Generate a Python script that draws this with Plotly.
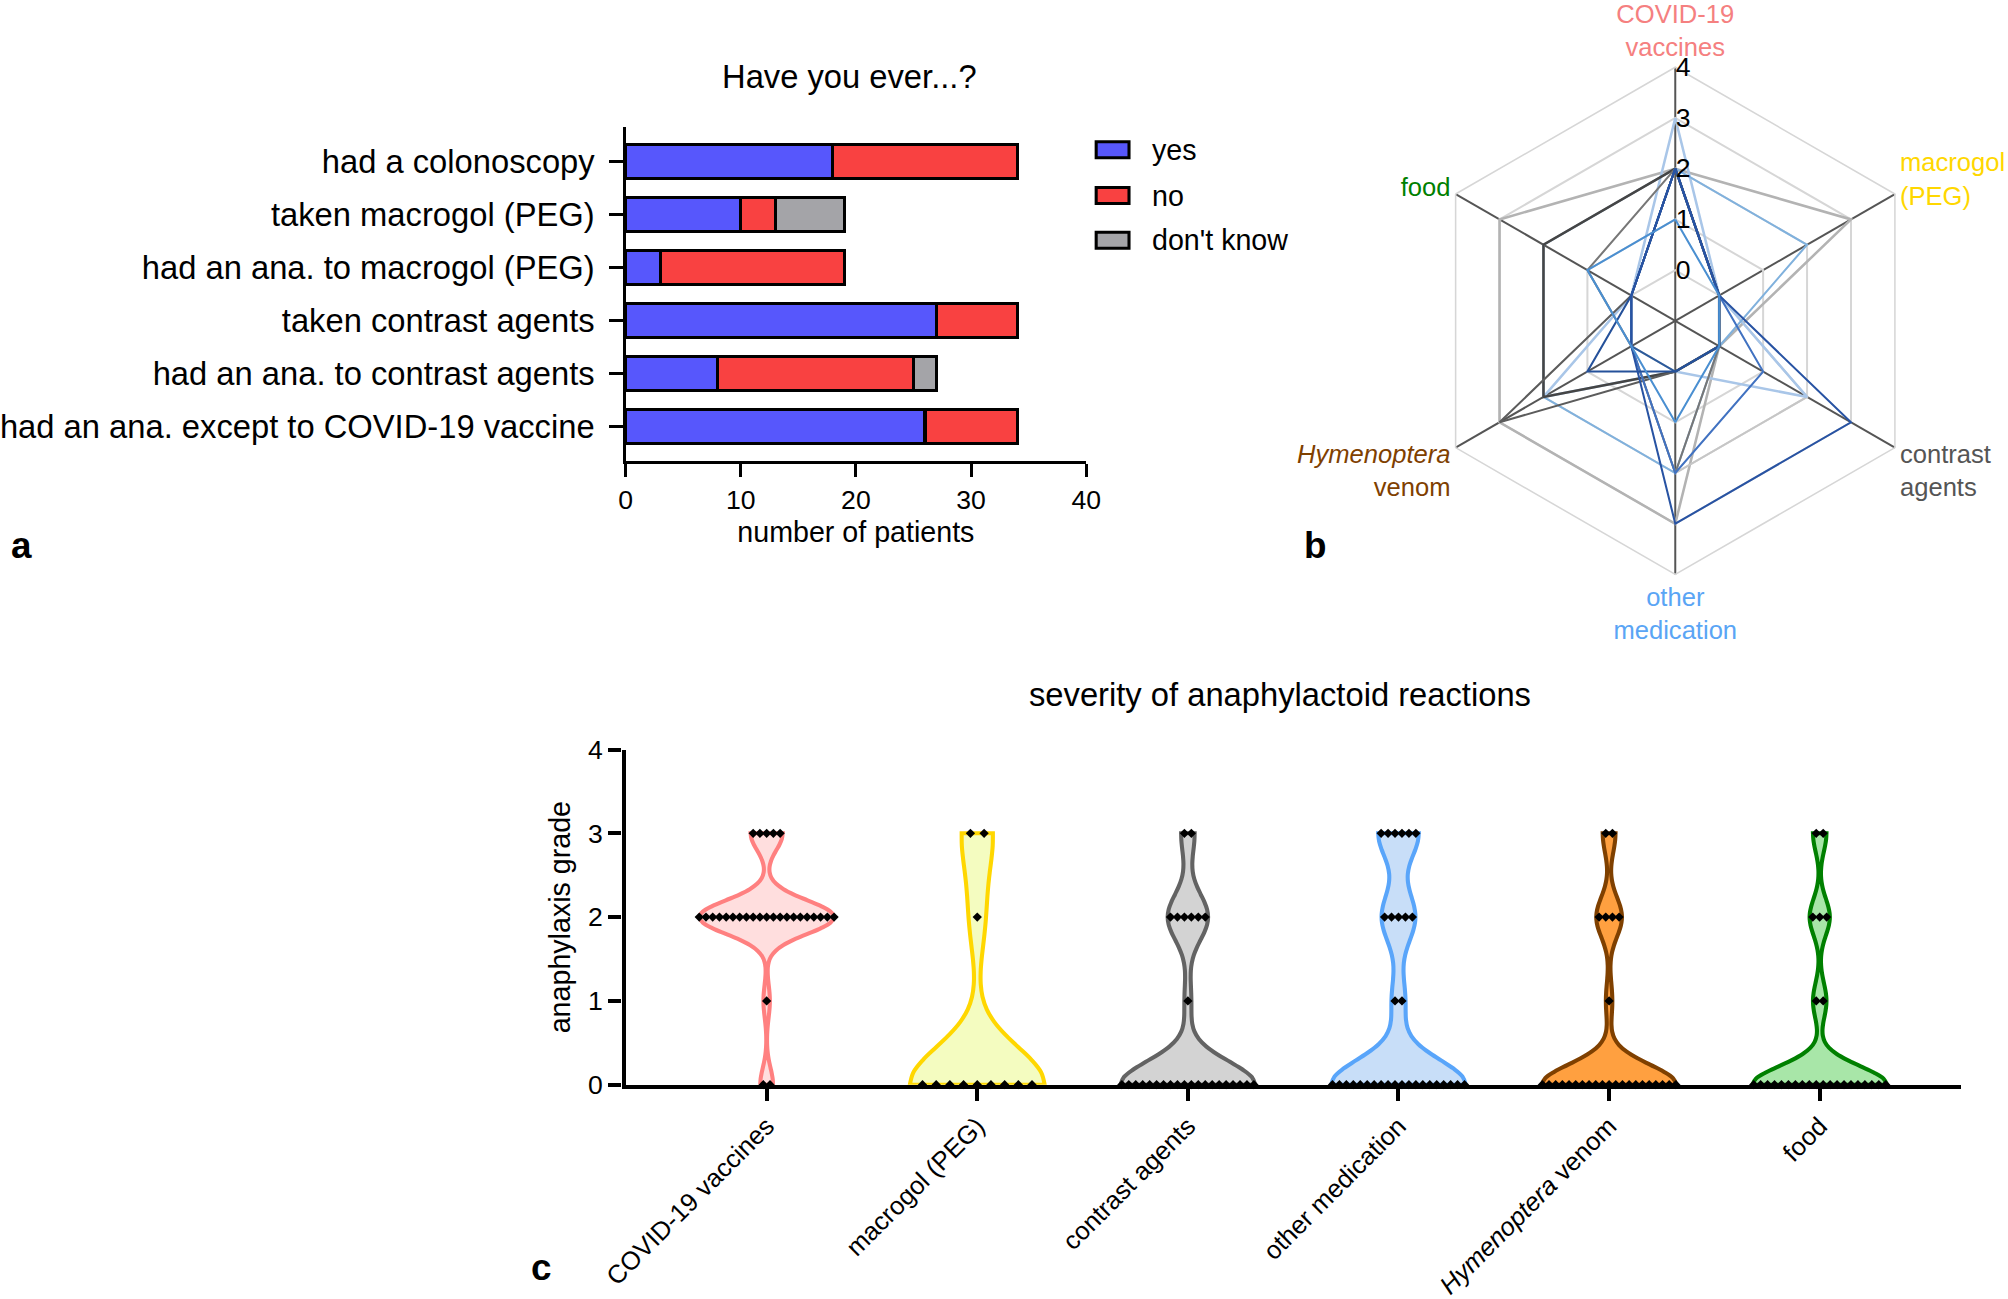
import numpy as np
import plotly.graph_objects as go

FONT = "Liberation Sans, Arial, Helvetica, sans-serif"

# ---------------- Panel a: stacked bars ----------------
bar_categories = [
    "had a colonoscopy",
    "taken macrogol (PEG)",
    "had an ana. to macrogol (PEG)",
    "taken contrast agents",
    "had an ana. to contrast agents",
    "had an ana. except to COVID-19 vaccine",
]
yes_counts = [18, 10, 3, 27, 8, 26]
no_counts = [16, 3, 16, 7, 17, 8]
dont_know_counts = [0, 6, 0, 0, 2, 0]
answer_names = ["yes", "no", "don't know"]
answer_colors = ["#5757FC", "#F94141", "#A4A4A8"]

# ---------------- Panel b: radar ----------------
radar_axes = ["COVID-19 vaccines", "macrogol (PEG)", "contrast agents",
              "other medication", "Hymenoptera venom", "food"]
radar_label_colors = ["#F58080", "#FFD700", "#555555", "#5AA5F5", "#7F4000", "#008000"]
radar_label_text = [
    ["COVID-19", "vaccines"],
    ["macrogol", "(PEG)"],
    ["contrast", "agents"],
    ["other", "medication"],
    ["<i>Hymenoptera</i>", "venom"],
    ["food"],
]
radar_profiles = [
    [2, 3, 0, 3, 3, 3],
    [2, 0, 2, 2, 0, 0],
    [3, 0, 2, 0, 2, 0],
    [2, 2, 0, 2, 2, 2],
    [2, 0, 0, 0, 2, 2],
    [2, 0, 0, 0, 3, 0],
    [2, 0, 0, 2, 0, 1],
    [2, 0, 1, 2, 0, 0],
    [2, 0, 0, 0, 0, 0],
    [2, 0, 0, 0, 1, 0],
    [2, 0, 3, 3, 0, 0],
    [1, 0, 0, 1, 0, 1],
]
radar_colors = ["#B3B3B3", "#C6C6C6", "#A9C6E8", "#80B1DD", "#454545", "#5C5C5C",
                "#777777", "#4172C1", "#2B5A9B", "#25519A", "#2853A3", "#4A8FD1"]
radar_widths = [2.5, 2, 2.5, 2, 2.5, 2, 2, 2, 2, 2, 2, 2]
radar_ticks = [0, 1, 2, 3, 4]

# ---------------- Panel c: violins ----------------
violin_categories = ["COVID-19 vaccines", "macrogol (PEG)", "contrast agents",
                     "other medication", "<i>Hymenoptera</i> venom", "food"]
grades = [0, 1, 2, 3]
counts_covid = [2, 1, 21, 5]
counts_macrogol = [9, 0, 1, 2]
counts_contrast = [20, 1, 6, 2]
counts_other = [20, 2, 5, 6]
counts_hymenoptera = [21, 1, 4, 2]
counts_food = [20, 2, 3, 2]
grade_counts = [counts_covid, counts_macrogol, counts_contrast,
                counts_other, counts_hymenoptera, counts_food]
violin_line_colors = ["#FF8080", "#FFD700", "#636363", "#59A5FA", "#7F4000", "#008000"]
violin_fill_colors = ["#FFDEDE", "#F4FCC0", "#D3D3D3", "#C8DEF8", "#FFA040", "#A8E6A8"]
violin_bandwidths = [0.2, 0.45, 0.28, 0.3, 0.24, 0.22]
dot_spacing = [0.032, 0.065, 0.033, 0.033, 0.0317, 0.033]

W, H = 2008, 1299
# the page photograph maps figure px -> picture px as p = off + k * f; place
# everything so that it lands where the reference has it
KX, OX = 0.979, 28.5
KY, OY = 0.976, 15.5
K = (KX + KY) / 2
def px(x):
    return ((x - OX) / KX) / W
def py(y):
    return 1 - ((y - OY) / KY) / H
def fs(s):
    return s / K

fig = go.Figure()

for name, vals, col in zip(answer_names, [yes_counts, no_counts, dont_know_counts], answer_colors):
    fig.add_trace(go.Bar(
        y=bar_categories, x=[v if v > 0 else None for v in vals], name=name,
        orientation="h", marker=dict(color=col, line=dict(color="black", width=fs(3))),
        xaxis="x", yaxis="y", showlegend=False,
    ))

for prof, col, w in zip(radar_profiles, radar_colors, radar_widths):
    fig.add_trace(go.Scatterpolar(
        r=prof + [prof[0]], theta=radar_axes + [radar_axes[0]], mode="lines",
        line=dict(color=col, width=fs(w)), subplot="polar", showlegend=False,
    ))

for i, counts in enumerate(grade_counts):
    values = np.repeat(grades, counts)
    fig.add_trace(go.Violin(
        x=[i] * len(values), y=values, width=0.64, scalemode="width",
        spanmode="hard", bandwidth=violin_bandwidths[i], points=False,
        line=dict(color=violin_line_colors[i], width=fs(4)),
        fillcolor=violin_fill_colors[i], box_visible=False, meanline_visible=False,
        xaxis="x2", yaxis="y2", showlegend=False, hoverinfo="skip",
    ))
for i, counts in enumerate(grade_counts):
    xs, ys = [], []
    for g, n in zip(grades, counts):
        offs = (np.arange(n) - (n - 1) / 2.0) * dot_spacing[i]
        xs.extend(list(i + offs))
        ys.extend([g] * n)
    fig.add_trace(go.Scatter(
        x=xs, y=ys, mode="markers", cliponaxis=False,
        marker=dict(symbol="diamond", size=fs(7), color="black"),
        xaxis="x2", yaxis="y2", showlegend=False,
    ))

axis_common = dict(showline=True, linecolor="black", ticks="outside", tickcolor="black",
                   showgrid=False, zeroline=False)

shapes = []
annotations = []
legend_rows_y = [151, 197, 242]
for name, col, yy in zip(answer_names, answer_colors, legend_rows_y):
    shapes.append(dict(type="rect", xref="paper", yref="paper",
                       x0=px(1093), x1=px(1126), y0=py(yy + 8), y1=py(yy - 8),
                       fillcolor=col, line=dict(color="black", width=fs(3))))
    annotations.append(dict(text=name, x=px(1147), y=py(yy), xref="paper", yref="paper",
                            xanchor="left", yanchor="middle", showarrow=False,
                            font=dict(size=fs(28), color="black")))

def label(text, x, y, size, xanchor="center", yanchor="middle"):
    return dict(text=text, x=px(x), y=py(y), xref="paper", yref="paper",
                xanchor=xanchor, yanchor=yanchor, showarrow=False,
                font=dict(size=fs(size), color="black"))

annotations += [
    label("Have you ever...?", 845, 77, 32),
    label("severity of anaphylactoid reactions", 1278, 699, 32),
    label("<b>a</b>", 0, 549, 36, "left"),
    label("<b>b</b>", 1300, 549, 36, "left"),
    label("<b>c</b>", 523, 1297, 36, "left", "bottom"),
]

radar_ticktext = []
for lines, col in zip(radar_label_text, radar_label_colors):
    radar_ticktext.append("<br>".join(f'<span style="color:{col}">{t}</span>' for t in lines))

fig.update_layout(
    width=W, height=H, margin=dict(l=0, r=0, t=0, b=0), autosize=False,
    paper_bgcolor="white", plot_bgcolor="white",
    font=dict(family=FONT, color="black"),
    barmode="stack", bargap=0.36, violinmode="overlay",
    xaxis=dict(domain=[px(620), px(1083)], range=[0, 40], dtick=10, anchor="y",
               linewidth=fs(3), tickwidth=fs(3), ticklen=fs(13), tickfont=dict(size=fs(26)),
               title=dict(text="number of patients", font=dict(size=fs(28)), standoff=fs(8)),
               **axis_common),
    yaxis=dict(domain=[py(464), py(128)], type="category", categoryorder="array",
               categoryarray=bar_categories, range=[5.65, -0.65], anchor="x",
               linewidth=fs(3), tickwidth=fs(3), ticklen=fs(13), tickfont=dict(size=fs(32)),
               ticklabelstandoff=int(round(fs(8))), **axis_common),
    xaxis2=dict(domain=[px(620), px(1962)], range=[-0.67, 5.67], anchor="y2",
                tickmode="array", tickvals=list(range(len(violin_categories))),
                ticktext=violin_categories, tickangle=-45,
                linewidth=fs(4), tickwidth=fs(4), ticklen=fs(12), tickfont=dict(size=fs(25)),
                **axis_common),
    yaxis2=dict(domain=[py(1091), py(754)], range=[0, 4], dtick=1, anchor="x2",
                linewidth=fs(4), tickwidth=fs(4), ticklen=fs(13), tickfont=dict(size=fs(26)),
                title=dict(text="anaphylaxis grade", font=dict(size=fs(28)), standoff=fs(10)),
                **axis_common),
    polar=dict(
        domain=dict(x=[px(1420), px(1930)], y=[py(578), py(68)]),
        gridshape="linear", bgcolor="white",
        radialaxis=dict(range=[-1, 4], tickmode="array", tickvals=radar_ticks,
                        angle=90, tickangle=90, showline=False, ticks="",
                        gridcolor="#D6D6D6", gridwidth=fs(1.5),
                        tickfont=dict(size=fs(26), color="black")),
        angularaxis=dict(rotation=90, direction="clockwise", type="category",
                         categoryarray=radar_axes, tickmode="array",
                         tickvals=radar_axes, ticktext=radar_ticktext,
                         gridcolor="#555555", gridwidth=fs(1.5), showline=True,
                         linecolor="#D6D6D6", linewidth=fs(1.5), ticks="",
                         tickfont=dict(size=fs(25))),
    ),
    shapes=shapes, annotations=annotations,
)

fig.write_html(
    "out.html",
    config={"displayModeBar": False, "responsive": False},
    post_script=("document.body.style.margin='0';document.body.style.padding='0';"
                 "document.documentElement.style.overflow='hidden';"),
)
